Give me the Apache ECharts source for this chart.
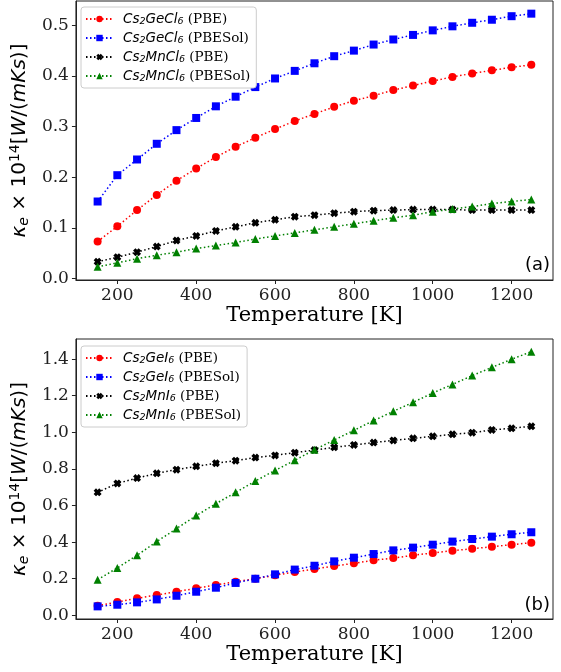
<!DOCTYPE html>
<html>
<head>
<meta charset="utf-8">
<script src="https://cdn.jsdelivr.net/npm/echarts@6/dist/echarts.min.js"></script>
<style>
html,body{margin:0;padding:0;background:#fff;}
#c{width:561px;height:672px;}
</style>
</head>
<body>
<div id="c"></div>
<script>
// ---- data ----
const temps = [150,200,250,300,350,400,450,500,550,600,650,700,750,800,850,900,950,1000,1050,1100,1150,1200,1250];
// panel (a)
const geCl_PBE    = [0.073,0.103,0.135,0.165,0.193,0.217,0.240,0.260,0.278,0.295,0.311,0.325,0.339,0.351,0.361,0.372,0.381,0.390,0.398,0.405,0.411,0.417,0.422];
const geCl_PBESol = [0.152,0.204,0.235,0.266,0.293,0.317,0.340,0.359,0.378,0.395,0.410,0.425,0.439,0.450,0.462,0.472,0.481,0.490,0.498,0.505,0.511,0.518,0.523];
const mnCl_PBE    = [0.033,0.042,0.052,0.063,0.075,0.084,0.094,0.102,0.110,0.116,0.122,0.125,0.129,0.132,0.134,0.135,0.136,0.136,0.136,0.135,0.135,0.135,0.135];
const mnCl_PBESol = [0.023,0.031,0.039,0.046,0.052,0.059,0.065,0.071,0.078,0.084,0.090,0.096,0.102,0.108,0.114,0.120,0.125,0.132,0.137,0.142,0.148,0.152,0.156];
// panel (b)
const geI_PBE     = [0.053,0.073,0.093,0.111,0.129,0.148,0.166,0.184,0.200,0.219,0.237,0.253,0.270,0.284,0.301,0.313,0.328,0.341,0.353,0.364,0.375,0.386,0.397];
const geI_PBESol  = [0.049,0.058,0.071,0.087,0.107,0.129,0.151,0.177,0.200,0.224,0.250,0.271,0.295,0.315,0.335,0.355,0.370,0.386,0.403,0.417,0.430,0.443,0.454];
const mnI_PBE     = [0.672,0.721,0.750,0.776,0.796,0.814,0.831,0.845,0.862,0.874,0.889,0.903,0.918,0.931,0.944,0.956,0.967,0.978,0.989,0.998,1.013,1.022,1.033];
const mnI_PBESol  = [0.195,0.259,0.328,0.403,0.474,0.545,0.610,0.672,0.734,0.792,0.847,0.905,0.958,1.011,1.064,1.115,1.164,1.215,1.262,1.310,1.355,1.399,1.441];
// tick labels
const xTicks  = [200,400,600,800,1000,1200];
const yTicksA = [0.0,0.1,0.2,0.3,0.4,0.5];
const yTicksB = [0.0,0.2,0.4,0.6,0.8,1.0,1.2,1.4];
const namesA = ['Cs2GeCl6 (PBE)','Cs2GeCl6 (PBESol)','Cs2MnCl6 (PBE)','Cs2MnCl6 (PBESol)'];
const namesB = ['Cs2GeI6 (PBE)','Cs2GeI6 (PBESol)','Cs2MnI6 (PBE)','Cs2MnI6 (PBESol)'];
const xLabel = 'Temperature [K]';

// ---- styling ----
const colors = ['#ff0000','#0000ff','#000000','#008000'];
const xPath = 'path://M0,3 L3,0 L5,2 L7,0 L10,3 L8,5 L10,7 L7,10 L5,8 L3,10 L0,7 L2,5 Z';
const symbols = ['circle','rect',xPath,'triangle'];
const symSizes = [8,8,8,8];
const serif = 'DejaVu Serif';
const sans = 'DejaVu Sans';

const LH = 16;
const legendRich = {
  sp:{width:5,lineHeight:LH},
  it:{fontFamily:sans,fontStyle:'italic',fontSize:13.5,color:'#000',lineHeight:LH},
  sub:{fontFamily:sans,fontStyle:'italic',fontSize:9.5,color:'#000',lineHeight:LH,verticalAlign:'bottom'},
  s:{fontFamily:serif,fontSize:13.5,color:'#000',lineHeight:LH}
};
function legendFmt(name){
  const m = name.match(/^Cs2(\w+?)6 (\(.*\))$/);
  const core = m[1];
  return '{sp|}{it|Cs}{sub|2}{it|' + core + '}{sub|6}{s| ' + m[2] + '}';
}
const yNameRich = {
  k:{fontFamily:sans,fontStyle:'italic',fontSize:20,color:'#000'},
  e:{fontFamily:sans,fontStyle:'italic',fontSize:14,color:'#000',padding:[8,0,0,0]},
  n:{fontFamily:sans,fontSize:20,color:'#000'},
  sup:{fontFamily:sans,fontSize:14,color:'#000',padding:[0,0,10,0]},
  w:{fontFamily:sans,fontStyle:'italic',fontSize:20,color:'#000'}
};
const yName = '{k|κ}{e|e}{n| × 10}{sup|14}{n|[}{w|W}{n|/(}{w|mKs}{n|)]}';

function makeSeries(datas, names, gi){
  return datas.map((d,i)=>({
    type:'line', name:names[i], xAxisIndex:gi, yAxisIndex:gi,
    data: temps.map((t,j)=>[t,d[j]]),
    symbol:symbols[i], symbolSize:symSizes[i],
    showAllSymbol:true, animation:false,
    itemStyle:{color:colors[i]},
    lineStyle:{color:colors[i], width:1.5, type:[1.5,2.5]},
    emphasis:{disabled:true}
  }));
}

const grids = [
  {left:73, right:8, top:1, height:279, show:true, borderColor:'#222', borderWidth:1},
  {left:73, right:8, top:339, height:280, show:true, borderColor:'#222', borderWidth:1}
];
function xAx(gi){
  return {type:'value', gridIndex:gi, min:95, max:1305, name:xLabel, nameLocation:'middle', nameGap:25,
    nameTextStyle:{fontFamily:serif,fontSize:21,color:'#000'},
    axisLine:{show:true,onZero:false,lineStyle:{color:'#222',width:1}},
    axisTick:{show:true,length:4,customValues:xTicks,lineStyle:{color:'#222'}},
    axisLabel:{customValues:xTicks,fontFamily:serif,fontSize:17,color:'#222',margin:7,formatter:v=>String(v)},
    splitLine:{show:false}};
}
function yAx(gi,min,max,ticks){
  return {type:'value', gridIndex:gi, min:min, max:max, name:yName, nameLocation:'middle', nameGap:30, nameRotate:90,
    nameTextStyle:{rich:yNameRich},
    axisLine:{show:true,onZero:false,lineStyle:{color:'#222',width:1}},
    axisTick:{show:true,length:4,customValues:ticks,lineStyle:{color:'#222'}},
    axisLabel:{customValues:ticks,fontFamily:serif,fontSize:17,color:'#222',margin:7,formatter:v=>v.toFixed(1)},
    splitLine:{show:false}};
}
function legend(names, top, left){
  return {data:names, orient:'vertical', left:left, top:top, itemWidth:27, itemHeight:8, itemGap:3,
    backgroundColor:'#fff', borderColor:'#ccc', borderWidth:1, borderRadius:3, padding:[4,6,4,4],
    formatter:legendFmt, textStyle:{rich:legendRich, fontSize:13.5, lineHeight:LH}, selectedMode:false};
}

const chart = echarts.init(document.getElementById('c'), null, {renderer:'canvas'});
chart.setOption({
  animation:false,
  backgroundColor:'#fff',
  grid:grids,
  xAxis:[xAx(0), xAx(1)],
  yAxis:[yAx(0,-0.003,0.548,yTicksA), yAx(1,-0.02,1.51,yTicksB)],
  legend:[legend(namesA,7,81), legend(namesB,346,81)],
  series:[].concat(
    makeSeries([geCl_PBE,geCl_PBESol,mnCl_PBE,mnCl_PBESol], namesA, 0),
    makeSeries([geI_PBE,geI_PBESol,mnI_PBE,mnI_PBESol], namesB, 1)
  ),
  graphic:[
    {type:'text', right:11, top:256, style:{text:'(a)', fontFamily:sans, fontSize:18, fill:'#000'}},
    {type:'text', right:11, top:596, style:{text:'(b)', fontFamily:sans, fontSize:18, fill:'#000'}}
  ]
});
</script>
</body>
</html>
